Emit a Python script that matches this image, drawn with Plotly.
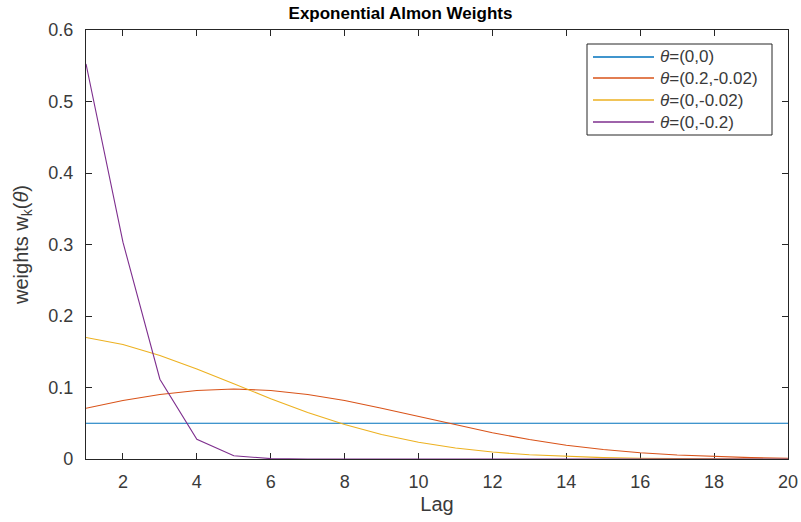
import plotly.graph_objects as go

# Lag index
lags = list(range(1, 21))

# Normalised exponential Almon weights for each parameter pair
w_flat = [0.05] * 20
w_hump = [0.0710, 0.0817, 0.0903, 0.0959, 0.0979, 0.0959, 0.0903, 0.0817, 0.0710, 0.0594,
          0.0476, 0.0367, 0.0272, 0.0193, 0.0132, 0.0087, 0.0055, 0.0033, 0.0019, 0.0011]
w_slow = [0.1700, 0.1601, 0.1449, 0.1259, 0.1052, 0.0844, 0.0651, 0.0482, 0.0343, 0.0235,
          0.0154, 0.0097, 0.0059, 0.0034, 0.0019, 0.0010, 0.0005, 0.0003, 0.0001, 0.0001]
w_fast = [0.5526, 0.3033, 0.1116, 0.0275, 0.0046, 0.0005, 0.0000, 0.0000, 0.0000, 0.0000,
          0.0000, 0.0000, 0.0000, 0.0000, 0.0000, 0.0000, 0.0000, 0.0000, 0.0000, 0.0000]

series_names = ["<i>θ</i>=(0,0)", "<i>θ</i>=(0.2,-0.02)", "<i>θ</i>=(0,-0.02)", "<i>θ</i>=(0,-0.2)"]
series_values = [w_flat, w_hump, w_slow, w_fast]
colors = ["#0072BD", "#D95319", "#EDB120", "#7E2F8E"]

x_ticks = list(range(2, 21, 2))
y_ticks = [0, 0.1, 0.2, 0.3, 0.4, 0.5, 0.6]
y_tick_text = ["0", "0.1", "0.2", "0.3", "0.4", "0.5", "0.6"]

W, H = 801, 522
M_L, M_R, M_T, M_B = 86, 13, 30, 63
plot_w = W - M_L - M_R
plot_h = H - M_T - M_B


def to_paper(px, py):
    """Convert pixel position in the figure to paper coordinates."""
    return (px - M_L) / plot_w, 1 - (py - M_T) / plot_h


fig = go.Figure()
for name, vals, col in zip(series_names, series_values, colors):
    fig.add_trace(go.Scatter(x=lags, y=vals, mode="lines", name=name, showlegend=False,
                             line=dict(color=col, width=1.1)))

font_family = "Liberation Sans, Arial, sans-serif"
axis_color = "#262626"
text_color = "#3a3a3a"

common_axis = dict(
    showline=True, linecolor=axis_color, linewidth=1.2, mirror="ticks",
    ticks="inside", ticklen=6, tickcolor=axis_color, tickwidth=1,
    showgrid=False, zeroline=False, layer="below traces", automargin=False,
    tickfont=dict(family=font_family, size=18, color=text_color),
)

# Boxed legend with long line samples
shapes = []
annotations = []
x0, y0 = to_paper(587, 44)
x1, y1 = to_paper(772, 135)
shapes.append(dict(type="rect", xref="paper", yref="paper", x0=x0, y0=y0, x1=x1, y1=y1,
                   line=dict(color=axis_color, width=1), fillcolor="white", layer="above"))
entry_y = [57, 78, 100, 122]
for name, col, ey in zip(series_names, colors, entry_y):
    lx0, ly = to_paper(593, ey)
    lx1, _ = to_paper(654, ey)
    shapes.append(dict(type="line", xref="paper", yref="paper", x0=lx0, x1=lx1, y0=ly, y1=ly,
                       line=dict(color=col, width=1.3), layer="above"))
    tx, _ = to_paper(658, ey)
    annotations.append(dict(text=name, xref="paper", yref="paper", x=tx, y=ly,
                            xanchor="left", yanchor="middle", showarrow=False,
                            font=dict(family=font_family, size=17, color=text_color)))

fig.update_layout(
    width=W, height=H,
    margin=dict(l=M_L, r=M_R, t=M_T, b=M_B, autoexpand=False),
    paper_bgcolor="white", plot_bgcolor="white",
    title=dict(text="<b>Exponential Almon Weights</b>", x=0.5, xanchor="center",
               y=1 - 13 / H, yanchor="middle", automargin=False,
               font=dict(family=font_family, size=17, color="#000000")),
    xaxis=dict(range=[1, 20], tickvals=x_ticks, ticklabelstandoff=6,
               title=dict(text="Lag", standoff=6,
                          font=dict(family=font_family, size=20, color=text_color)),
               **common_axis),
    yaxis=dict(range=[0, 0.6], tickvals=y_ticks, ticktext=y_tick_text, ticklabelstandoff=8,
               title=dict(text="weights w<sub>k</sub>(<i>θ</i>)", standoff=14,
                          font=dict(family=font_family, size=20, color=text_color)),
               **common_axis),
    shapes=shapes,
    annotations=annotations,
    showlegend=False,
)

fig.write_html("out.html")
